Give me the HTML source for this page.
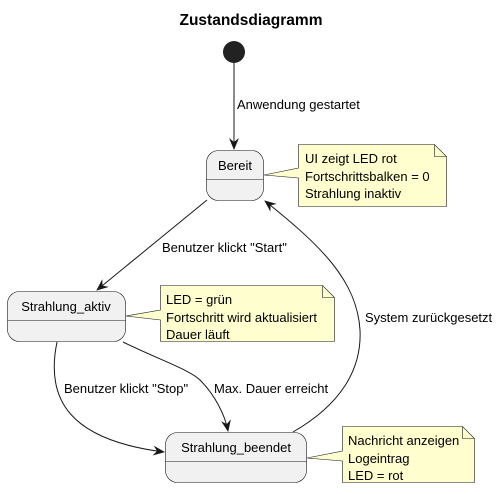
<!DOCTYPE html>
<html><head><style>body{margin:0;background:#fff}svg{display:block}text{font-family:"Liberation Sans",sans-serif;font-size:13px;fill:#000}</style></head>
<body>
<svg width="502" height="494" viewBox="0 0 502 494">
<defs><marker id="a" viewBox="0 0 12 10" refX="11" refY="5" markerWidth="12" markerHeight="10" orient="auto" markerUnits="userSpaceOnUse"><path d="M0,0 L12,5 L0,10 L4,5 Z" fill="#181818"/></marker></defs>
<text x="251" y="25" text-anchor="middle" style="font-weight:bold;font-size:15.5px">Zustandsdiagramm</text>
<circle cx="234" cy="52" r="11" fill="#222"/>
<g fill="none" stroke="#181818" stroke-width="1">
<path d="M234,63 L234,149" marker-end="url(#a)"/>
<path d="M207,200 L97,290" marker-end="url(#a)"/>
<path d="M293,432 C340,405 362,370 360,330 C357,280 320,245 265,201" marker-end="url(#a)"/>
<path d="M57,342 C45,400 70,440 164,452" marker-end="url(#a)"/>
<path d="M123,342 C160,360 190,370 200,380 C215,395 225,415 228,431" marker-end="url(#a)"/>
</g>
<text x="237" y="109">Anwendung gestartet</text>
<text x="162" y="252">Benutzer klickt "Start"</text>
<text x="365" y="322">System zurückgesetzt</text>
<text x="64" y="393">Benutzer klickt "Stop"</text>
<text x="214" y="393">Max. Dauer erreicht</text>
<g fill="#f1f1f1" stroke="#181818" stroke-width="0.6">
<rect x="206.5" y="150.5" width="57" height="50" rx="12"/>
<rect x="7.5" y="291.5" width="118" height="50" rx="12"/>
<rect x="165.5" y="432.5" width="141" height="50" rx="12"/>
<path d="M206.5,179.5H263.5M7.5,320.5H125.5M165.5,461.5H306.5"/>
</g>
<text x="235" y="170" text-anchor="middle">Bereit</text>
<text x="66" y="311" text-anchor="middle">Strahlung_aktiv</text>
<text x="236" y="452" text-anchor="middle">Strahlung_beendet</text>
<g fill="#fefece" stroke="#181818" stroke-width="0.6">
<path d="M298.5,144.5H434.5L446.5,156.5V206.5H298.5V178L264,175L298.5,168Z"/>
<path d="M434.5,144.5V156.5H446.5" fill="none"/>
<path d="M160.5,285.5H322.5L334.5,297.5V341.5H160.5V320L126,316L160.5,310Z"/>
<path d="M322.5,285.5V297.5H334.5" fill="none"/>
<path d="M342.5,426.5H462.5L474.5,438.5V482.5H342.5V461L307,458L342.5,451Z"/>
<path d="M462.5,426.5V438.5H474.5" fill="none"/>
</g>
<text x="305" y="163">UI zeigt LED rot</text>
<text x="305" y="181">Fortschrittsbalken = 0</text>
<text x="305" y="198">Strahlung inaktiv</text>
<text x="166" y="304">LED = grün</text>
<text x="166" y="322">Fortschritt wird aktualisiert</text>
<text x="166" y="339">Dauer läuft</text>
<text x="348" y="445">Nachricht anzeigen</text>
<text x="348" y="463">Logeintrag</text>
<text x="348" y="480">LED = rot</text>
</svg>
</body></html>
